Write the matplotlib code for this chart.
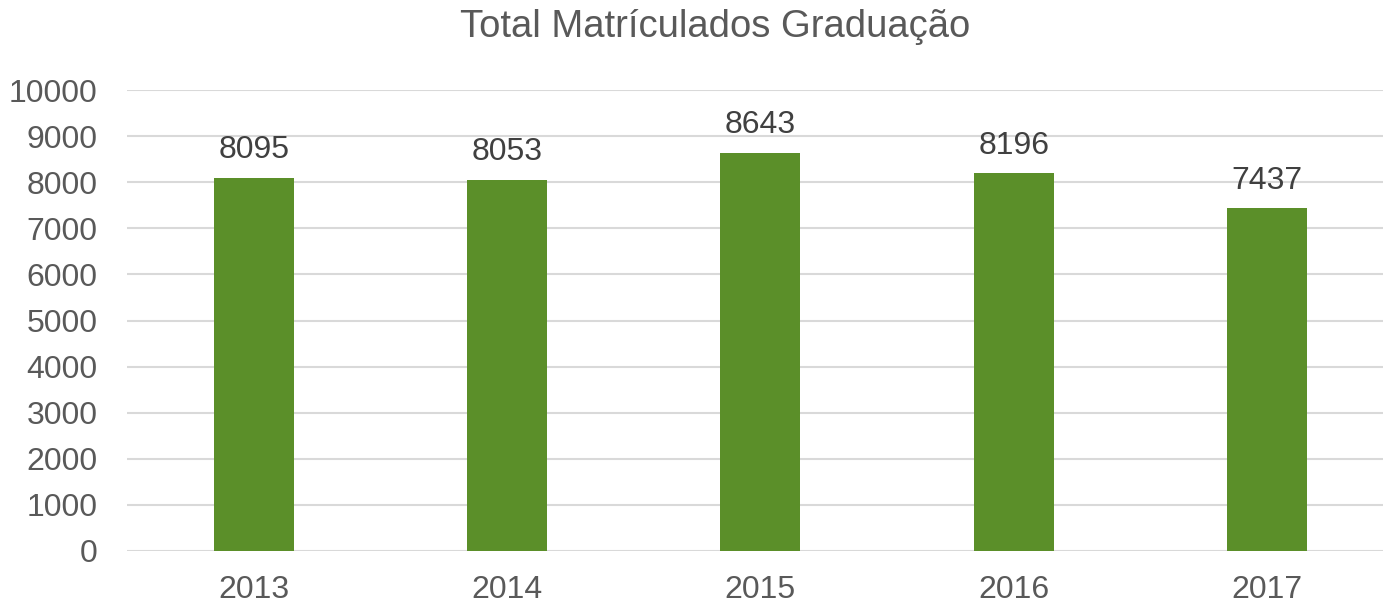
import matplotlib
matplotlib.use("Agg")
import matplotlib.pyplot as plt

years = ["2013", "2014", "2015", "2016", "2017"]
values = [8095, 8053, 8643, 8196, 7437]
title = "Total Matrículados Graduação"

plt.rcParams['font.family'] = ['Liberation Sans', 'DejaVu Sans']

fig = plt.figure(figsize=(13.83, 6.02), dpi=100)
ax = fig.add_axes([127/1383, 1-551/602, (1383-127)/1383, (551-90)/602])

x = list(range(len(years)))
bars = ax.bar(x, values, width=0.316, color="#5B8F29", zorder=3)
ax.set_xlim(-0.5, 4.458)
ax.set_ylim(0, 10000)
ax.set_yticks(range(0, 10001, 1000))
ax.set_xticks(x)
ax.set_xticklabels(years)
ax.grid(axis="y", color="#D9D9D9", linewidth=1.5, zorder=0)
ax.set_axisbelow(True)
for s in ax.spines.values():
    s.set_visible(False)
ax.tick_params(axis="both", length=0, labelsize=23, labelcolor="#595959")
ax.tick_params(axis="y", pad=21)
ax.tick_params(axis="x", pad=17)

for xi, v in zip(x, values):
    ax.annotate(f"{v}", (xi, v), xytext=(0, 9), textcoords="offset points",
                ha="center", va="bottom", fontsize=23, color="#404040")

fig.text(715/1383, 1-27/602, title, ha="center", va="center", fontsize=27.5, color="#595959")

fig.savefig("out.png", dpi=100)
